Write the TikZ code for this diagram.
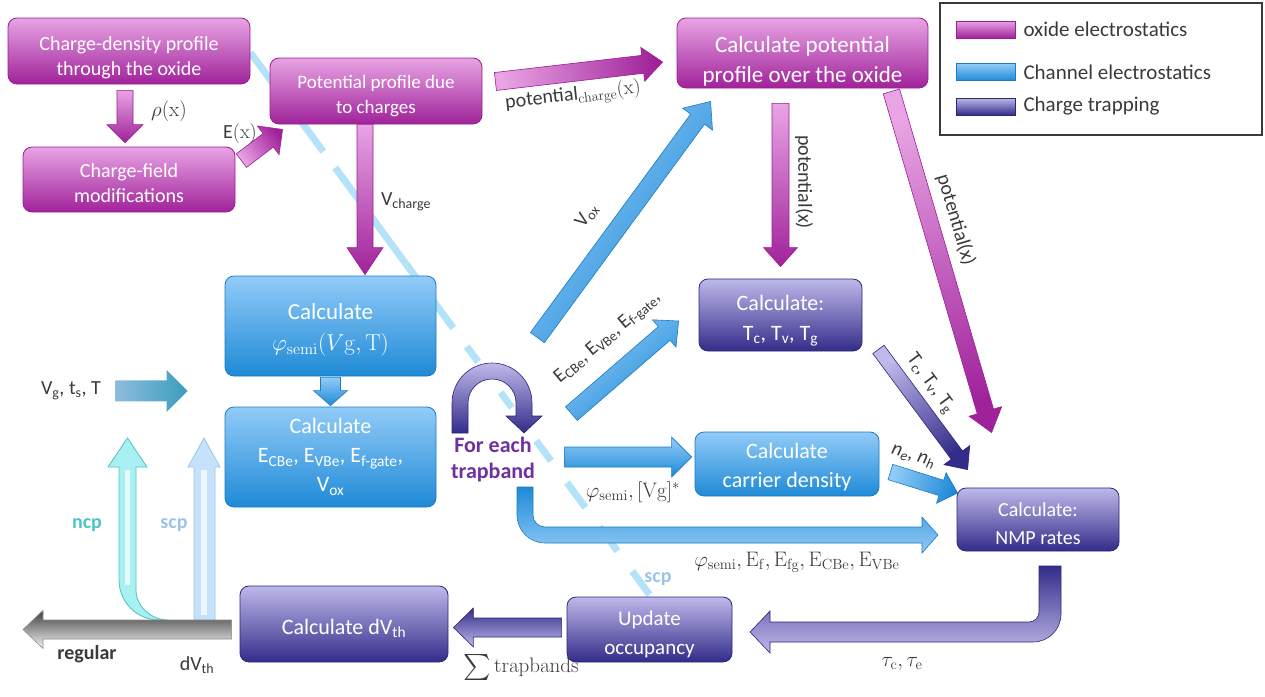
\RequirePackage{fix-cm}
\documentclass[tikz,border=0pt]{standalone}
\usepackage[no-math]{fontspec}
\setmainfont{Carlito}
\usetikzlibrary{positioning,calc,backgrounds}

\definecolor{oxL}{HTML}{E8A4E4}
\definecolor{oxD}{HTML}{A0229A}
\definecolor{oxB}{HTML}{9A1E94}
\definecolor{chL}{HTML}{92CBF8}
\definecolor{chD}{HTML}{1E8AD6}
\definecolor{chB}{HTML}{1A7CC4}
\definecolor{trL}{HTML}{BEB9EA}
\definecolor{trD}{HTML}{332C8A}
\definecolor{trB}{HTML}{2C2678}
\definecolor{lblC}{HTML}{3A3A3A}
\definecolor{legB}{HTML}{3A3A3A}
\definecolor{loopC}{HTML}{7030A0}
\definecolor{ncpC}{HTML}{4EC3C6}
\definecolor{ncpF}{HTML}{A8F0F2}
\definecolor{scpC}{HTML}{9DC3E6}
\definecolor{scpF}{HTML}{C6E2FA}
\definecolor{dashC}{HTML}{B4E2F8}
\definecolor{vgL}{HTML}{8DBCDD}
\definecolor{vgD}{HTML}{3A9DBE}

\newcommand{\fsz}[2]{\fontsize{#1}{#2}\selectfont}
\newcommand{\tp}[1]{\rule{0pt}{#1pt}}
\def\barang{0}\def\barshd{0}\def\barlen{0}
% block arrow: style, tail, tip, half shaft, half head, head length
\newcommand{\barrow}[6]{%
  \coordinate (barS) at #2;
  \coordinate (barE) at #3;
  \path let \p1=($(barE)-(barS)$) in \pgfextra{%
    \pgfmathsetmacro\bartmp{veclen(\x1,\y1)}\global\let\barlen\bartmp
    \pgfmathsetmacro\bartmp{atan2(\y1,\x1)}\global\let\barang\bartmp
    \pgfmathsetmacro\bartmp{\barang-90}\global\let\barshd\bartmp};
  \shade[#1,shift={(barS)},rotate=\barang]
    (0pt,-#4pt) -- ({\barlen pt-#6pt},-#4pt) -- ({\barlen pt-#6pt},-#5pt)
    -- (\barlen pt,0pt) -- ({\barlen pt-#6pt},#5pt) -- ({\barlen pt-#6pt},#4pt)
    -- (0pt,#4pt) -- cycle;
}

\begin{document}
\begin{tikzpicture}[x=1pt,y=-1pt,
    box/.style={rounded corners=9pt,inner sep=0pt,align=center,text=white,line width=0.8pt},
    oxbox/.style={box,draw=oxB,top color=oxL,bottom color=oxD},
    chbox/.style={box,draw=chB,top color=chL,bottom color=chD},
    trbox/.style={box,draw=trB,top color=trL,bottom color=trD},
    oxalong/.style={draw=oxB,line width=0.6pt,top color=oxD,bottom color=oxL,shading angle=\barshd},
    chalong/.style={draw=chB,line width=0.6pt,top color=chD,bottom color=chL,shading angle=\barshd},
    chacross/.style={draw=chB,line width=0.6pt,top color=chL,bottom color=chD,shading angle=\barang},
    tralong/.style={draw=trB,line width=0.6pt,top color=trD,bottom color=trL,shading angle=\barshd},
    tracross/.style={draw=trB,line width=0.6pt,top color=trL,bottom color=trD,shading angle=\barang},
    vgalong/.style={top color=vgD,bottom color=vgL,shading angle=\barshd},
    grayacross/.style={draw=black!45,line width=0.6pt,top color=black!4,bottom color=black!75,shading angle=\barang},
    lbl/.style={text=lblC,inner sep=0pt,font=\fsz{20}{23}},
    mlbl/.style={lbl,font=\fsz{21}{24}},
    tag/.style={inner sep=0pt,font=\bfseries\fsz{20}{24}},
    swatch/.style={minimum width=59pt,minimum height=17pt,inner sep=0pt,line width=0.6pt},
    legtxt/.style={text=lblC,inner sep=0pt,font=\fsz{21}{24}},
    scpdash/.style={dashC,line width=7pt,dash pattern=on 123pt off 20pt on 199pt off 23pt on 19pt off 38pt on 19pt off 41pt on 25pt off 27pt on 31pt off 24pt on 30pt off 25pt on 30pt off 20pt}]
  \useasboundingbox (0,0) rectangle (1265,696);

  % boxes
  \node[oxbox,minimum width=242pt,minimum height=66pt,font=\fsz{20}{25}] (cdp) at (129,51) {\tp{27}Charge-density profile\\through the oxide};
  \node[oxbox,minimum width=212pt,minimum height=65pt,font=\fsz{20}{25}] (cfm) at (129,179.5) {\tp{21}Charge-field\\modifications};
  \node[oxbox,minimum width=212pt,minimum height=66pt,font=\fsz{19}{25}] (ppc) at (376,91) {\tp{24}Potential profile due\\to charges};
  \node[oxbox,minimum width=251pt,minimum height=70pt,font=\fsz{23}{30}] (cpo) at (802.5,53) {\tp{33}Calculate potential\\profile over the oxide};
  \node[chbox,minimum width=211pt,minimum height=100pt,font=\fsz{23}{31}] (phis) at (330.5,326) {\tp{24}Calculate\\$\varphi_{\mathrm{semi}}(V\mathrm{g},\mathrm{T})$};
  \node[chbox,minimum width=211pt,minimum height=100pt,font=\fsz{22}{29}] (ecbe) at (330.5,457) {Calculate\\E\textsubscript{CBe}, E\textsubscript{VBe}, E\textsubscript{f-gate},\\V\textsubscript{ox}};
  \node[trbox,minimum width=163pt,minimum height=72pt,font=\fsz{22}{30}] (tctv) at (780.5,315) {\tp{26.5}Calculate:\\T\textsubscript{c}, T\textsubscript{v}, T\textsubscript{g}};
  \node[chbox,minimum width=184pt,minimum height=64pt,font=\fsz{22}{29}] (cden) at (787,464) {\tp{22.5}Calculate\\carrier density};
  \node[trbox,minimum width=162pt,minimum height=63pt,font=\fsz{20}{28}] (nmp) at (1038,519.5) {\tp{22}Calculate:\\NMP rates};
  \node[trbox,minimum width=165pt,minimum height=65pt,font=\fsz{21}{29}] (upd) at (649.5,629.5) {\tp{24}Update\\occupancy};
  \node[trbox,minimum width=208pt,minimum height=76pt,font=\fsz{22}{26}] (dvth) at (344,624) {\tp{24.5}Calculate dV\textsubscript{th}};
  \node[align=center,text=loopC,inner sep=0pt,font=\bfseries\fsz{22}{26}] (loop) at (493,460) {For each\\trapband};

  % scp path behind everything
  \begin{scope}[on background layer]
    \draw[scpdash] ($(cdp.north east)+(0,35)$) -- ($(upd.north)+(0,-2)$);
  \end{scope}

  % legend
  \node[draw=legB,line width=2pt,minimum width=322pt,minimum height=132pt,inner sep=0pt] (legend) at (1101,69) {};
  \node[swatch,draw=oxB,top color=oxL,bottom color=oxD] (swox) at (985.5,29.5) {};
  \node[swatch,draw=chB,top color=chL,bottom color=chD] (swch) at (985.5,72) {};
  \node[swatch,draw=trB,top color=trL,bottom color=trD] (swtr) at (985.5,106.5) {};
  \node[legtxt,right=8pt of swox] (lgox) {oxide electrostatics};
  \node[legtxt,right=8pt of swch] (lgch) {Channel electrostatics};
  \node[legtxt,right=8pt of swtr] (lgtr) {Charge trapping};

  % oxide electrostatics arrows
  \barrow{oxalong}{($(cdp.south)+(-4,6)$)}{($(cfm.north)+(-4,-4)$)}{8}{18}{18}
  \barrow{oxalong}{($(cfm.north east)+(6,14)$)}{($(ppc.south west)+(13,5)$)}{8.5}{18}{18}
  \barrow{oxalong}{($(ppc.east)+(13,-9.5)$)}{($(cpo.west)+(-14,9)$)}{9}{17}{20}
  \barrow{oxalong}{($(ppc.south)+(-11,0)$)}{($(phis.north)+(34.5,-1)$)}{8}{18}{27}
  \barrow{oxalong}{($(cpo.south)+(-22,15)$)}{($(tctv.north)+(0,-12)$)}{8.5}{17}{19}
  \barrow{oxalong}{($(cpo.south east)+(-37,3)$)}{($(nmp.north west)+(35,-55)$)}{8.5}{17}{22}

  % channel electrostatics arrows
  \barrow{chacross}{($(phis.north east)+(101,62)$)}{($(cpo.south west)+(34,13)$)}{8.6}{18.5}{22}
  \barrow{chacross}{($(ecbe.north east)+(135,7)$)}{($(tctv.west)+(-20,6)$)}{9}{18}{19}
  \barrow{chacross}{($(cden.west)+(-130,-7)$)}{($(cden.west)+(-3,-7)$)}{10}{20}{20}
  \barrow{chalong}{($(cden.east)+(11,8)$)}{($(nmp.west)+(1,-26.5)$)}{8}{16}{17}
  \barrow{chalong}{($(phis.south)+(0,1)$)}{($(ecbe.north)+(0,-1)$)}{10}{17}{15}
  \barrow{vgalong}{($(phis.south west)+(-109,14.5)$)}{($(phis.south west)+(-37,14.5)$)}{10.5}{21}{21}
  \shade[draw=chB,line width=0.6pt,top color=chD,bottom color=chL]
    (517,487) -- (517,515) .. controls (517,530.5) and (529.5,543) .. (545,543) -- (922,543)
    -- (922,553) -- (938,535) -- (922,517) -- (922,527) -- (545,527)
    .. controls (538.4,527) and (533,521.6) .. (533,515) -- (533,487) -- cycle;

  % charge trapping arrows
  \barrow{tralong}{($(tctv.south east)+(16,-2)$)}{($(nmp.north west)+(11,-18)$)}{7}{16}{18}
  \barrow{tracross}{($(upd.west)+(-5,-2)$)}{($(dvth.east)+(5,3.5)$)}{9.5}{19.5}{20}
  \shade[draw=trB,line width=0.6pt,top color=trL,bottom color=trD]
    (452,433) -- (452,403) .. controls (452,380.9) and (469.9,363) .. (492,363)
    .. controls (514.1,363) and (532,380.9) .. (532,403) -- (532,416) -- (542,416)
    -- (524,433) -- (506,416) -- (516,416) -- (516,403)
    .. controls (516,389.7) and (505.3,379) .. (492,379)
    .. controls (478.7,379) and (468,389.7) .. (468,403) -- (468,433) -- cycle;
  \shade[draw=trB,line width=0.6pt,top color=trD,bottom color=trL]
    (1039,566) -- (1061,566) -- (1061,614) .. controls (1061,629.5) and (1048.5,642) .. (1033,642)
    -- (770,642) -- (770,653) -- (750,632) -- (770,611) -- (770,622) -- (1029,622)
    .. controls (1034.5,622) and (1039,617.5) .. (1039,612) -- cycle;

  % feedback arrows
  \filldraw[draw=ncpC,fill=ncpF,line width=0.8pt]
    (119,467) -- (119,580) .. controls (119,602) and (137,620) .. (159,620) -- (168,620)
    .. controls (151,620) and (136,606) .. (136,590) -- (136,467) -- (147,467)
    -- (127.5,438) -- (108,467) -- cycle;
  \filldraw[draw=scpC,fill=scpF,line width=0.8pt]
    (194,467) -- (194,620) -- (215,620) -- (215,467) -- (220,467) -- (204,438) -- (188,467) -- cycle;
  \draw[white,opacity=0.7,line width=5pt] (127.5,470) -- (127.5,585);
  \draw[white,opacity=0.7,line width=6pt] (204,470) -- (204,615);
  \coordinate (regEnd) at (23,629.5);
  \barrow{grayacross}{($(dvth.west)+(-8,5.5)$)}{(regEnd)}{9.5}{19}{20}

  % labels
  \node[mlbl] (rhol) at (169,111) {$\rho(\mathrm{x})$};
  \node[lbl] (exl) at (240,133) {E$(\mathrm{x})$};
  \node[lbl] (vchl) at (406,202) {V\textsubscript{charge}};
  \node[lbl,rotate=6.4] (pchl) at (573,96) {potential$_{\mathrm{charge}}(\mathrm{x})$};
  \node[lbl,rotate=53.6] (voxl) at (587,216) {V\textsubscript{ox}};
  \node[lbl,rotate=-90] (potxl) at (804,182) {potential(x)};
  \node[lbl,rotate=-73.5] (potll) at (956,220) {potential(x)};
  \node[lbl,rotate=40] (ecbel) at (608,338) {E\textsubscript{CBe}, E\textsubscript{VBe}, E\textsubscript{f-gate},};
  \node[mlbl] (phvl) at (633,492) {$\varphi_{\mathrm{semi}}, [\mathrm{Vg}]^{*}$};
  \node[mlbl] (phel) at (797,562) {$\varphi_{\mathrm{semi}}, \mathrm{E_f}, \mathrm{E_{fg}}, \mathrm{E_{CBe}}, \mathrm{E_{VBe}}$};
  \node[lbl,rotate=-53.5] (tcl) at (930,384) {T\textsubscript{c}, T\textsubscript{v}, T\textsubscript{g}};
  \node[lbl,rotate=-17] (nel) at (913,457) {\itshape n\textsubscript{e}, n\textsubscript{h}};
  \node[mlbl] (taul) at (902,664) {$\tau_{\mathrm{c}}, \tau_{\mathrm{e}}$};
  \node[mlbl] (suml) at (521,668) {\raisebox{-0.35\height}{\scalebox{2.6}{$\sum$}}\,$\mathrm{trapbands}$};
  \node[lbl] (dvl) at (197,665) {dV\textsubscript{th}};
  \node[lbl] (vgl) at (71,391) {V\textsubscript{g}, t\textsubscript{s}, T};
  \node[tag,text=lblC] (regl) at (87,654) {regular};
  \node[tag,text=ncpC] (ncpl) at (87,525) {ncp};
  \node[tag,text=scpC] (scpl) at (174,525) {scp};
  \node[tag,text=scpC] (scpm) at (658,579) {scp};
\end{tikzpicture}
\end{document}
